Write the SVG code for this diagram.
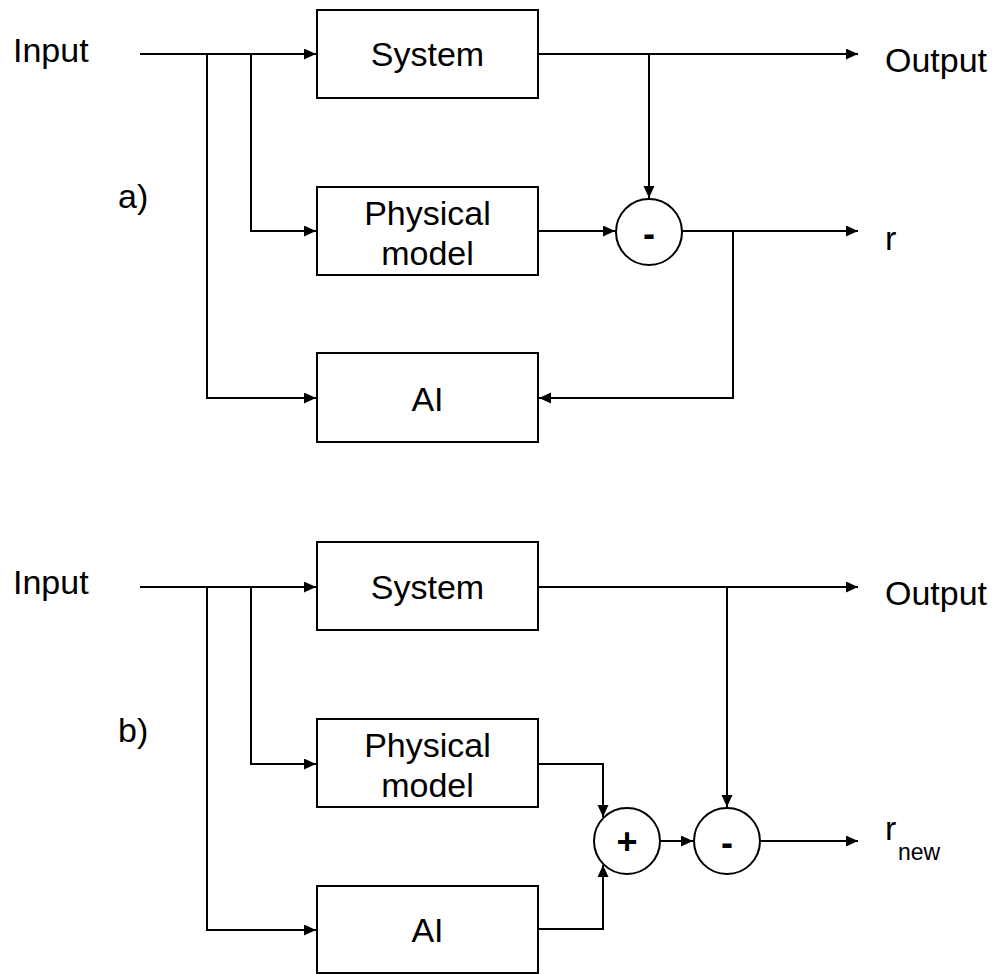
<svg xmlns="http://www.w3.org/2000/svg" width="999" height="974" viewBox="0 0 999 974">
<defs>
<style>
.box{fill:#fff;stroke:#000;stroke-width:2}
.sum{fill:#fff;stroke:#000;stroke-width:2}
.ln{fill:none;stroke:#000;stroke-width:2}
.ar{marker-end:url(#arr)}
text{font-family:"Liberation Sans",Arial,sans-serif;font-size:34px;fill:#000}
.c{text-anchor:middle}
.op{font-size:36px;font-weight:bold}
</style>
<marker id="arr" markerUnits="userSpaceOnUse" markerWidth="14" markerHeight="12" refX="12" refY="5.5" orient="auto">
<path d="M0,0 L12,5.5 L0,11 z" fill="#000"/>
</marker>
</defs>
<rect width="999" height="974" fill="#fff"/>

<g id="labels">
<text x="13" y="62">Input</text>
<text x="118" y="208">a)</text>
<text x="885" y="72">Output</text>
<text x="885" y="250">r</text>
<text x="13" y="594">Input</text>
<text x="118" y="742">b)</text>
<text x="885" y="605">Output</text>
<text x="885" y="840">r<tspan x="898" y="860" style="font-size:23px">new</tspan></text>
</g>

<g id="connectors">
<path class="ln ar" d="M140,54 H316"/>
<path class="ln ar" d="M207,54 V398 H316"/>
<path class="ln ar" d="M251,54 V231 H316"/>
<path class="ln ar" d="M538,54 H858"/>
<path class="ln ar" d="M649,54 V198"/>
<path class="ln ar" d="M538,231 H615"/>
<path class="ln ar" d="M682,231 H858"/>
<path class="ln ar" d="M733,231 V398 H539"/>

<path class="ln ar" d="M140,587 H316"/>
<path class="ln ar" d="M207,587 V930 H316"/>
<path class="ln ar" d="M251,587 V764 H316"/>
<path class="ln ar" d="M538,587 H858"/>
<path class="ln ar" d="M727,587 V807"/>
<path class="ln ar" d="M538,764 H603 V817"/>
<path class="ln ar" d="M538,929 H603 V865"/>
<path class="ln ar" d="M660,841 H693"/>
<path class="ln ar" d="M760,841 H858"/>
</g>

<g id="a-system"><rect class="box" x="317" y="10" width="221" height="88"/><text class="c" x="427.5" y="66">System</text></g>
<g id="a-physical"><rect class="box" x="317" y="187" width="221" height="88"/><text class="c" x="427.5" y="225">Physical</text><text class="c" x="427.5" y="265">model</text></g>
<g id="a-ai"><rect class="box" x="317" y="353" width="221" height="89"/><text class="c" x="427.5" y="411">AI</text></g>
<g id="a-minus"><circle class="sum" cx="649" cy="232" r="33"/><text class="c op" x="649" y="246">-</text></g>

<g id="b-system"><rect class="box" x="317" y="542" width="221" height="88"/><text class="c" x="427.5" y="599">System</text></g>
<g id="b-physical"><rect class="box" x="317" y="719" width="221" height="88"/><text class="c" x="427.5" y="757">Physical</text><text class="c" x="427.5" y="797">model</text></g>
<g id="b-ai"><rect class="box" x="317" y="886" width="221" height="87"/><text class="c" x="427.5" y="942">AI</text></g>
<g id="b-plus"><circle class="sum" cx="627" cy="841" r="33"/><text class="c op" x="627" y="854">+</text></g>
<g id="b-minus"><circle class="sum" cx="727" cy="841" r="33"/><text class="c op" x="727" y="855">-</text></g>
</svg>
